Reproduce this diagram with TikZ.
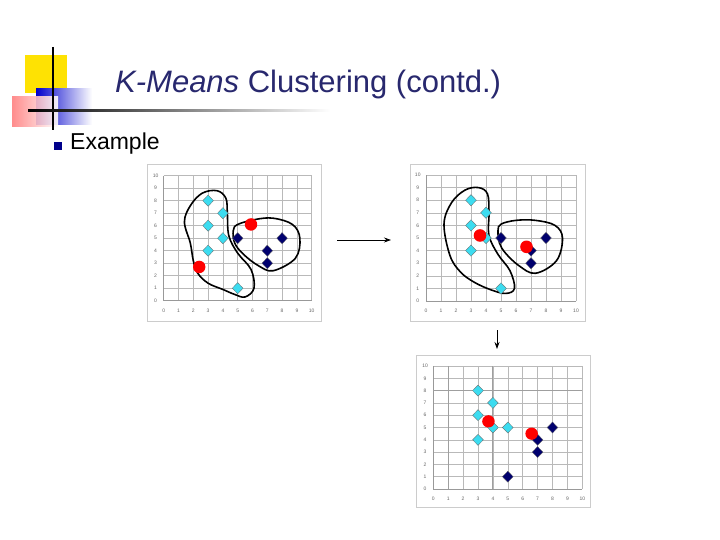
\documentclass[tikz,border=0pt]{standalone}
\usepackage{fontspec}
\setmainfont{Liberation Sans}
\usetikzlibrary{arrows.meta}
\definecolor{navy}{RGB}{0,0,110}
\definecolor{cy}{RGB}{60,220,240}
\definecolor{titlec}{RGB}{40,40,110}
\tikzset{
  gridl/.style={gray!55,line width=0.5pt},
  frame/.style={draw=gray!40,line width=1pt,fill=white},
  blob/.style={black,line width=1.6pt},
  lbl/.style={font=\fontsize{5}{5}\selectfont,text=gray!80!black,inner sep=0},
  conn/.style={-{Stealth[length=7pt,width=5pt]},line width=0.8pt},
  pics/plotgrid/.style={code={
    \foreach \i in {0,...,10}{\draw[gridl] (\i,0) -- (\i,10) (0,\i) -- (10,\i);}
    \draw[gray!80,line width=0.7pt] (0,0) -- (10,0) (0,0) -- (0,10);
    \foreach \i in {0,...,10}{
      \node[lbl] (xl\i) at (\i,-0.8) {\i};
      \node[lbl] (yl\i) at (-0.55,\i) {\i};}
  }}
}
\newcommand{\cpoint}[3]{\fill[#3,draw=black!60,line width=0.3pt] (#1,#2) ++(0,0.45) -- ++(0.36,-0.45) -- ++(-0.36,-0.45) -- ++(-0.36,0.45) -- cycle;}
\newcommand{\rpoint}[2]{\fill[red] (#1,#2) circle[x radius=0.42,y radius=0.5];}
\begin{document}
\begin{tikzpicture}[x=1pt,y=-1pt]
\useasboundingbox (0,0) rectangle (720,540);
\fill[white] (0,0) rectangle (720,540);
% decoration
\fill[yellow!85!orange] (25,55) rectangle (67,93);
\shade[left color=blue!80!black,right color=white] (36,89) rectangle (92,125);
\shade[left color=red!50,right color=white,opacity=0.9] (12,97) rectangle (58,127);
\draw[line width=1.5pt] (53,47) -- (53,130);
\shade[left color=black,right color=white] (28,110) rectangle (330,112);
% title
\node[anchor=base west,text=titlec,font=\fontsize{31}{32}\selectfont,inner sep=0] (title) at (115,93) {\textit{K-Means} Clustering (contd.)};
\fill[navy!80!blue] (54,142) rectangle (62,150);
\node[anchor=base west,font=\fontsize{23}{24}\selectfont,inner sep=0] (ex) at (70,150) {Example};
% plot 1
\node[frame,minimum width=174,minimum height=157,anchor=north west,inner sep=0] (f1) at (147,164) {};
\begin{scope}[shift={(163.7,300.7)},x=14.8pt,y=12.5pt]
\pic {plotgrid};
\draw[blob] plot[smooth cycle,tension=0.6] coordinates {(3.6,8.8)(4.2,8.2)(4.3,7)(4.4,5.2)(5,3.8)(5.9,2.5)(6.1,1)(5.5,0.3)(4.8,0.5)(4,0.9)(3,1.4)(2.3,2.2)(2,3.2)(1.8,4.6)(1.4,6.3)(1.8,7.6)(2.6,8.6)};
\draw[blob] plot[smooth cycle,tension=0.6] coordinates {(5,6.1)(6.2,6.5)(7.4,6.6)(8.7,6.1)(9.2,5)(8.9,3.4)(7.4,2.4)(6.4,2.8)(5.4,3.7)(4.8,4.6)(4.7,5.6)};
\foreach \a/\b in {3/8,4/7,3/6,4/5,3/4,5/1}{\cpoint{\a}{\b}{cy}}
\foreach \a/\b in {5/5,7/4,7/3,8/5}{\cpoint{\a}{\b}{navy}}
\rpoint{2.4}{2.7}\rpoint{5.9}{6.1}
\end{scope}
% plot 2
\node[frame,minimum width=175,minimum height=157,anchor=north west,inner sep=0] (f2) at (410,164) {};
\begin{scope}[shift={(426,301)},x=15pt,y=12.6pt]
\pic {plotgrid};
\draw[blob] plot[smooth cycle,tension=0.6] coordinates {(3.5,9)(4.1,8.5)(4.2,7)(4.2,5.2)(4.8,3.7)(5.6,2.4)(5.9,1)(5.3,0.6)(4.3,0.9)(3.2,1.5)(2.3,2.3)(1.6,3.6)(1.2,6.1)(1.7,7.8)(2.6,8.8)};
\draw[blob] plot[smooth cycle,tension=0.6] coordinates {(5,6.1)(6,6.4)(7.3,6.4)(8.6,6)(9.1,5)(8.7,3.2)(7.3,2.2)(6.2,2.8)(5.3,3.8)(4.9,4.6)(4.8,5.6)};
\foreach \a/\b in {3/8,4/7,3/6,4/5,3/4,5/1}{\cpoint{\a}{\b}{cy}}
\foreach \a/\b in {5/5,7/4,7/3,8/5}{\cpoint{\a}{\b}{navy}}
\rpoint{3.6}{5.2}\rpoint{6.7}{4.3}
\end{scope}
% plot 3
\node[frame,minimum width=174,minimum height=152,anchor=north west,inner sep=0] (f3) at (416,355) {};
\begin{scope}[shift={(433.3,489)},x=14.9pt,y=12.3pt]
\pic {plotgrid};
\draw[gray!75,line width=1pt] (1,0)--(1,10) (4,0)--(4,10) (0,8)--(10,8);
\foreach \a/\b in {3/8,4/7,3/6,4/5,5/5,3/4}{\cpoint{\a}{\b}{cy}}
\foreach \a/\b in {7/4,7/3,8/5,5/1}{\cpoint{\a}{\b}{navy}}
\rpoint{3.7}{5.5}\rpoint{6.6}{4.5}
\end{scope}
% arrows
\coordinate (a1) at (337,240); \coordinate (a2) at (391,240);
\draw[conn] (a1) -- (a2);
\coordinate (b1) at (497,330); \coordinate (b2) at (497,349);
\draw[conn] (b1) -- (b2);
\end{tikzpicture}
\end{document}
